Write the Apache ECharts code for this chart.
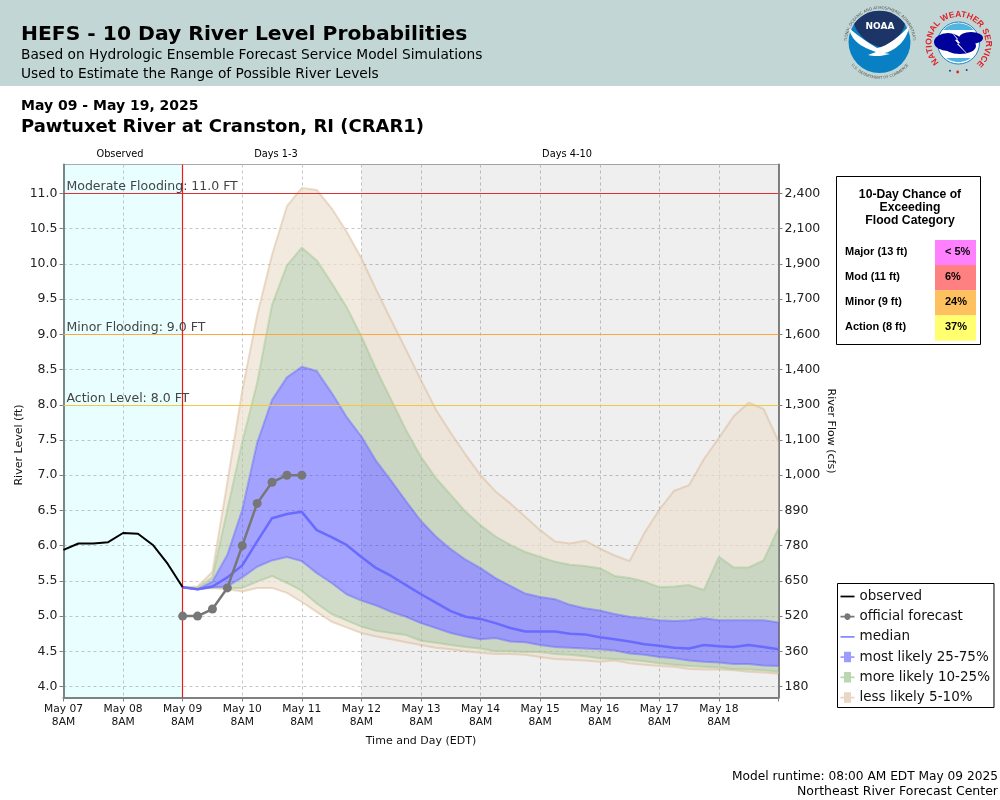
<!DOCTYPE html>
<html>
<head>
<meta charset="utf-8">
<title>HEFS - 10 Day River Level Probabilities</title>
<script src="https://cdn.jsdelivr.net/npm/echarts@6/dist/echarts.min.js"></script>
<style>
  html, body { margin: 0; padding: 0; background: #fff; }
  #chart { width: 1000px; height: 800px; }
  #logos { position: absolute; left: 0; top: 0; pointer-events: none; }
</style>
</head>
<body>
<div id="chart"></div>
<svg id="logos" width="1000" height="90" xmlns="http://www.w3.org/2000/svg">
  <!-- NOAA -->
  <path id="noaaTop" d="M847 42 A33 33 0 0 1 913 42" fill="none"/>
  <path id="noaaBot" d="M848 60 A36.5 36.5 0 0 0 912 60" fill="none"/>
  <circle cx="879.5" cy="42" r="31" fill="#0a80c4"/>
  <text font-family="DejaVu Sans" font-size="3.9" fill="#555"><textPath href="#noaaTop" startOffset="50%" text-anchor="middle">NATIONAL OCEANIC AND ATMOSPHERIC ADMINISTRATION</textPath></text>
  <text font-family="DejaVu Sans" font-size="3.9" fill="#555"><textPath href="#noaaBot" startOffset="50%" text-anchor="middle">U.S. DEPARTMENT OF COMMERCE</textPath></text>
  <path d="M854 24 A31 31 0 0 1 905 24 C903 34 892 44 884 48 C870 46 858 36 854 24 Z" fill="#1c3566"/>
  <path d="M849 28 C858 36 870 44 877 48 C888 46 900 36 909 26 C908 40 894 52 884 53 L890 54 C882 56 876 57 868 55 L876 52 C866 48 852 44 849 28 Z" fill="#fff"/>
  <text x="880" y="29" text-anchor="middle" font-family="DejaVu Sans" font-weight="bold" font-size="9" fill="#fff">NOAA</text>
  <!-- NWS -->
  <path id="nwsRing" d="M939 62.5 A27 27 0 1 1 978 62.5" fill="none"/>
  <text font-family="Liberation Sans" font-weight="bold" font-size="8.5" fill="#e0202a"><textPath href="#nwsRing" textLength="128" lengthAdjust="spacing">NATIONAL WEATHER SERVICE</textPath></text>
  <circle cx="958.5" cy="43" r="21" fill="#fff" stroke="#1c7fc0" stroke-width="1"/>
  <path d="M943 30 A21 21 0 0 1 974 30 Z" fill="#52b5de"/>
  <path d="M946 58 A21 21 0 0 0 971 58 Z" fill="#52b5de"/>
  <ellipse cx="948" cy="42" rx="14" ry="9" fill="#00009a"/>
  <ellipse cx="971" cy="38" rx="12" ry="6" fill="#00009a"/>
  <ellipse cx="960" cy="46" rx="16" ry="8" fill="#00009a"/>
  <path d="M948 28 L958 39 L955 40 L971 58 L957 44 L960 43 Z" fill="#fff"/>
  <circle cx="950" cy="70.7" r="1" fill="#1c3fa0"/>
  <circle cx="966.7" cy="70" r="1" fill="#1c3fa0"/>
  <circle cx="957.7" cy="72" r="1.4" fill="#e0202a"/>
</svg>
<script>
// observed stage, 6 hourly from May 07 8AM
var observedLevel = [5.94, 6.03, 6.03, 6.05, 6.18, 6.17, 6.01, 5.74, 5.41];
// everything below is 6 hourly from May 09 8AM
var officialForecast = [5.0, 5.0, 5.1, 5.4, 6.0, 6.6, 6.9, 7.0, 7.0];
var medianLevel = [5.41, 5.38, 5.42, 5.55, 5.72, 6.06, 6.39, 6.45, 6.48, 6.22, 6.12, 6.01, 5.84, 5.68, 5.57, 5.44, 5.31, 5.19, 5.07, 4.99, 4.96, 4.90, 4.83, 4.78, 4.78, 4.78, 4.75, 4.74, 4.70, 4.67, 4.64, 4.60, 4.58, 4.55, 4.54, 4.59, 4.57, 4.56, 4.59, 4.56, 4.53];
var p5 = [5.41, 5.38, 5.40, 5.38, 5.35, 5.40, 5.40, 5.33, 5.20, 5.06, 4.92, 4.84, 4.76, 4.71, 4.67, 4.63, 4.59, 4.55, 4.53, 4.50, 4.48, 4.46, 4.46, 4.45, 4.42, 4.39, 4.38, 4.37, 4.35, 4.37, 4.33, 4.31, 4.29, 4.28, 4.25, 4.24, 4.24, 4.23, 4.21, 4.20, 4.18];
var p10 = [5.41, 5.38, 5.41, 5.40, 5.40, 5.49, 5.57, 5.47, 5.36, 5.18, 5.03, 4.94, 4.85, 4.79, 4.76, 4.73, 4.65, 4.62, 4.59, 4.56, 4.54, 4.50, 4.50, 4.49, 4.49, 4.46, 4.45, 4.43, 4.40, 4.39, 4.38, 4.36, 4.33, 4.31, 4.29, 4.28, 4.27, 4.25, 4.24, 4.23, 4.21];
var p25 = [5.41, 5.38, 5.41, 5.42, 5.55, 5.70, 5.79, 5.84, 5.78, 5.61, 5.47, 5.31, 5.22, 5.15, 5.06, 4.99, 4.90, 4.83, 4.76, 4.71, 4.67, 4.69, 4.64, 4.63, 4.59, 4.56, 4.55, 4.54, 4.53, 4.51, 4.47, 4.45, 4.42, 4.40, 4.37, 4.35, 4.34, 4.32, 4.32, 4.30, 4.29];
var p75 = [5.41, 5.38, 5.49, 5.87, 6.51, 7.46, 8.07, 8.39, 8.54, 8.48, 8.17, 7.83, 7.55, 7.20, 6.92, 6.63, 6.35, 6.13, 5.95, 5.80, 5.68, 5.54, 5.43, 5.32, 5.27, 5.24, 5.16, 5.11, 5.08, 5.03, 4.99, 4.97, 4.94, 4.93, 4.94, 4.97, 4.94, 4.94, 4.94, 4.94, 4.91];
var p90 = [5.41, 5.40, 5.55, 6.51, 7.47, 8.31, 9.42, 9.98, 10.23, 10.05, 9.73, 9.39, 8.97, 8.50, 8.07, 7.64, 7.26, 6.96, 6.72, 6.48, 6.29, 6.13, 6.01, 5.91, 5.84, 5.77, 5.73, 5.71, 5.68, 5.57, 5.54, 5.49, 5.41, 5.42, 5.44, 5.37, 5.84, 5.69, 5.69, 5.79, 6.25];
var p95 = [5.41, 5.42, 5.63, 6.90, 8.20, 9.27, 10.13, 10.82, 11.08, 11.05, 10.79, 10.46, 10.08, 9.63, 9.20, 8.78, 8.35, 7.93, 7.60, 7.29, 7.00, 6.77, 6.60, 6.41, 6.22, 6.06, 6.03, 6.07, 5.96, 5.86, 5.78, 6.18, 6.51, 6.78, 6.86, 7.23, 7.53, 7.84, 8.03, 7.94, 7.48];

var stageTicks = [4.0, 4.5, 5.0, 5.5, 6.0, 6.5, 7.0, 7.5, 8.0, 8.5, 9.0, 9.5, 10.0, 10.5, 11.0];
var flowLabels = ["180", "360", "520", "650", "780", "890", "1,000", "1,100", "1,300", "1,400", "1,600", "1,700", "1,900", "2,100", "2,400"];
var dayLabels = ["May 07", "May 08", "May 09", "May 10", "May 11", "May 12", "May 13", "May 14", "May 15", "May 16", "May 17", "May 18"];

var floodNames = ["Moderate Flooding: 11.0 FT", "Minor Flooding: 9.0 FT", "Action Level: 8.0 FT"];
var floodLevels = [11.0, 9.0, 8.0];
var floodColors = ["#e03030", "#ffa640", "#f2c93c"];

var chanceLabels = ["Major (13 ft)", "Mod (11 ft)", "Minor (9 ft)", "Action (8 ft)"];
var chanceValues = ["< 5%", "6%", "24%", "37%"];
var chanceColors = ["#ff80ff", "#ff8080", "#ffc060", "#ffff70"];

// one category per 6 hours, May 07 8AM to May 19 8AM. only 8AM gets a label
var timeSteps = [];
for (var t = 0; t <= 48; t++) {
  timeSteps.push(t % 4 === 0 && dayLabels[t / 4] ? dayLabels[t / 4] + "\n8AM" : "");
}
var FORECAST_START = 8;   // May 09 8AM
var GREY_START = 20;      // May 12 8AM
var LAST_STEP = 48;

var asLine = function (arr, start) {
  return arr.map(function (v, i) { return [start + i, v]; });
};
// width of a band between two percentile lists, for stacking
var gap = function (low, high) {
  return high.map(function (v, i) { return [FORECAST_START + i, +(v - low[i]).toFixed(2)]; });
};

var TAN_AREA = "rgba(236,224,209,0.7)", TAN_EDGE = "rgba(212,172,130,0.4)";
var GREEN_AREA = "rgba(177,197,163,0.6)", GREEN_EDGE = "rgba(150,195,135,0.45)";
var BLUE_AREA = "rgba(71,71,255,0.5)", BLUE_EDGE = "rgba(95,95,255,0.45)";

function bandSeries(name, data, area, edge) {
  var s = {
    name: name,
    type: "line",
    stack: "bands",
    data: data,
    symbol: "none",
    z: 3,
    lineStyle: { color: edge, width: 2 },
    itemStyle: { color: edge }
  };
  if (area) s.areaStyle = { color: area, opacity: 1 };
  return s;
}

var FONT = "DejaVu Sans";
var plainText = function (x, y, text, size, weight, align) {
  return {
    type: "text", x: x, y: y, z: 20,
    style: { text: text, fill: "#000", font: (weight || "normal") + " " + size + "px '" + FONT + "'", textAlign: align || "left", textVerticalAlign: "middle" }
  };
};

var graphicItems = [
  { type: "rect", shape: { x: 0, y: 0, width: 1000, height: 86 }, style: { fill: "#c2d7d5" }, z: -1 },
  plainText(21, 34.5, "HEFS - 10 Day River Level Probabilities", 20.3, "bold"),
  plainText(21, 55, "Based on Hydrologic Ensemble Forecast Service Model Simulations", 13.75),
  plainText(21, 74, "Used to Estimate the Range of Possible River Levels", 13.75),
  plainText(21, 106, "May 09 - May 19, 2025", 14, "bold"),
  plainText(21, 127, "Pawtuxet River at Cranston, RI (CRAR1)", 18, "bold"),
  plainText(120, 154, "Observed", 9.8, "normal", "center"),
  plainText(276, 154, "Days 1-3", 9.8, "normal", "center"),
  plainText(567, 154, "Days 4-10", 9.8, "normal", "center"),
  plainText(998, 777, "Model runtime: 08:00 AM EDT May 09 2025", 12.2, "normal", "right"),
  plainText(998, 792, "Northeast River Forecast Center", 12.5, "normal", "right"),
  // chance table
  { type: "rect", shape: { x: 836.5, y: 176.5, width: 144, height: 168 }, style: { fill: "#fff", stroke: "#000", lineWidth: 1 }, z: 19 }
];
["10-Day Chance of", "Exceeding", "Flood Category"].forEach(function (t, i) {
  graphicItems.push({ type: "text", x: 910, y: 195 + i * 13, z: 20, style: { text: t, fill: "#000", font: "bold 12.2px 'Liberation Sans'", textAlign: "center", textVerticalAlign: "middle" } });
});
chanceLabels.forEach(function (t, i) {
  var rowY = 240 + i * 25.1;
  graphicItems.push({ type: "rect", shape: { x: 935, y: rowY, width: 41, height: 25.4 }, style: { fill: chanceColors[i] }, z: 20 });
  graphicItems.push({ type: "text", x: 845, y: rowY + 11.5, z: 21, style: { text: t, fill: "#000", font: "bold 11px 'Liberation Sans'", textVerticalAlign: "middle" } });
  graphicItems.push({ type: "text", x: 945, y: rowY + 11.5, z: 21, style: { text: chanceValues[i], fill: "#000", font: "bold 11px 'Liberation Sans'", textVerticalAlign: "middle" } });
});

var lineIcon = "path://M0 0H16V2H0Z";
var dotIcon = "path://M0 6H4.5A3.6 3.6 0 0 1 11.5 6H16V8H11.5A3.6 3.6 0 0 1 4.5 8H0Z";
var bandIcon = "path://M0 6H4V1H12V6H16V8H12V13H4V8H0Z";

var option = {
  animation: false,
  backgroundColor: "#fff",
  textStyle: { fontFamily: FONT },
  graphic: { elements: graphicItems },
  grid: { left: 63.5, right: 221.5, top: 164.5, bottom: 102.5, show: true, borderColor: "#aaa", borderWidth: 1, outerBoundsMode: "none" },
  legend: {
    left: 837.5, top: 583.5, orient: "vertical",
    padding: [6, 4, 3, 3],
    itemWidth: 14, itemHeight: 14, itemGap: 6.2,
    backgroundColor: "#fff", borderColor: "#000", borderWidth: 1,
    textStyle: { fontFamily: FONT, fontSize: 13.5, color: "#111" },
    selectedMode: false,
    data: [
      { name: "observed", icon: lineIcon, itemStyle: { color: "#000" } },
      { name: "official forecast", icon: dotIcon, itemStyle: { color: "#777" } },
      { name: "median", icon: lineIcon, itemStyle: { color: "#8a8aff" } },
      { name: "most likely 25-75%", icon: bandIcon, itemStyle: { color: "rgba(90,90,255,0.6)" } },
      { name: "more likely 10-25%", icon: bandIcon, itemStyle: { color: "rgba(130,180,115,0.55)" } },
      { name: "less likely 5-10%", icon: bandIcon, itemStyle: { color: "rgba(215,180,145,0.55)" } }
    ]
  },
  xAxis: {
    type: "category", boundaryGap: false, data: timeSteps,
    name: "Time and Day (EDT)", nameLocation: "middle", nameGap: 38,
    nameTextStyle: { fontFamily: FONT, fontSize: 11, color: "#111" },
    axisLine: { lineStyle: { color: "#808080", width: 2 } },
    axisTick: { interval: 3, alignWithLabel: true, length: 4, lineStyle: { color: "#808080" } },
    axisLabel: { interval: 3, fontFamily: FONT, fontSize: 10.7, color: "#111", margin: 5, lineHeight: 13, hideOverlap: false },
    splitLine: { show: true, interval: 3, lineStyle: { color: "#c6c6c6", type: [3, 3], width: 1 } }
  },
  yAxis: [
    {
      type: "value", min: 3.844, max: 11.412,
      name: "River Level (ft)", nameLocation: "middle", nameGap: 39, nameMoveOverlap: false,
      nameTextStyle: { fontFamily: FONT, fontSize: 11, color: "#111", padding: [0, 28, 0, 0] },
      axisLine: { show: true, lineStyle: { color: "#808080", width: 2 } },
      axisTick: { show: true, length: 4, customValues: stageTicks, lineStyle: { color: "#808080" } },
      axisLabel: {
        fontFamily: FONT, fontSize: 12.5, color: "#222", margin: 6, customValues: stageTicks,
        formatter: function (v) { return v.toFixed(1); }
      },
      splitLine: { show: true, lineStyle: { color: "#c6c6c6", type: [3, 3], width: 1 } }
    },
    {
      type: "value", min: 3.844, max: 11.412, position: "right",
      name: "River Flow (cfs)", nameLocation: "middle", nameGap: 47, nameRotate: -90, nameMoveOverlap: false,
      nameTextStyle: { fontFamily: FONT, fontSize: 11, color: "#111" },
      axisLine: { show: true, lineStyle: { color: "#808080", width: 2 } },
      axisTick: { show: true, length: 4, customValues: stageTicks, lineStyle: { color: "#808080" } },
      axisLabel: {
        fontFamily: FONT, fontSize: 12.5, color: "#222", margin: 6, customValues: stageTicks,
        formatter: function (v) {
          var i = stageTicks.findIndex(function (t) { return Math.abs(t - v) < 0.01; });
          return i >= 0 ? flowLabels[i] : "";
        }
      },
      splitLine: { show: false }
    }
  ],
  series: [
    // observed and days 4-10 backdrops
    {
      name: "backdrop", type: "line", data: [], z: 1, symbol: "none",
      markArea: {
        silent: true,
        data: [
          [{ xAxis: 0, itemStyle: { color: "rgba(0,255,255,0.085)" } }, { xAxis: FORECAST_START }],
          [{ xAxis: GREY_START, itemStyle: { color: "rgba(0,0,0,0.063)" } }, { xAxis: LAST_STEP }]
        ]
      }
    },
    bandSeries("p5 edge", asLine(p5, FORECAST_START), null, TAN_EDGE),
    bandSeries("low tan", gap(p5, p10), TAN_AREA, GREEN_EDGE),
    bandSeries("low green", gap(p10, p25), GREEN_AREA, BLUE_EDGE),
    bandSeries("most likely 25-75%", gap(p25, p75), BLUE_AREA, BLUE_EDGE),
    bandSeries("more likely 10-25%", gap(p75, p90), GREEN_AREA, GREEN_EDGE),
    bandSeries("less likely 5-10%", gap(p90, p95), TAN_AREA, TAN_EDGE),
    // flood stages and the forecast start
    {
      name: "thresholds", type: "line", data: [], z: 4, symbol: "none",
      markLine: {
        silent: true, symbol: "none", precision: 2,
        data: floodLevels.map(function (lvl, i) {
          return {
            yAxis: lvl, name: floodNames[i],
            lineStyle: { color: floodColors[i], type: "solid", width: 1.2 },
            label: { show: true, formatter: "{b}", position: "insideStartTop", distance: [3, 0], color: "#444", fontFamily: FONT, fontSize: 12.5 }
          };
        }).concat([{
          xAxis: FORECAST_START,
          lineStyle: { color: "#f01818", type: "solid", width: 1.2 },
          label: { show: false }
        }])
      }
    },
    {
      name: "median", type: "line", data: asLine(medianLevel, FORECAST_START), z: 5, symbol: "none",
      lineStyle: { color: "#6a6aff", width: 2.5 }, itemStyle: { color: "#8a8aff" }
    },
    {
      name: "observed", type: "line", data: asLine(observedLevel, 0), z: 6, symbol: "none",
      lineStyle: { color: "#000", width: 2 }, itemStyle: { color: "#000" }
    },
    {
      name: "official forecast", type: "line", data: asLine(officialForecast, FORECAST_START), z: 7,
      symbol: "circle", symbolSize: 9,
      lineStyle: { color: "#777", width: 2.5 }, itemStyle: { color: "#777" }
    }
  ]
};

var myChart = echarts.init(document.getElementById("chart"));
myChart.setOption(option);
</script>
</body>
</html>
